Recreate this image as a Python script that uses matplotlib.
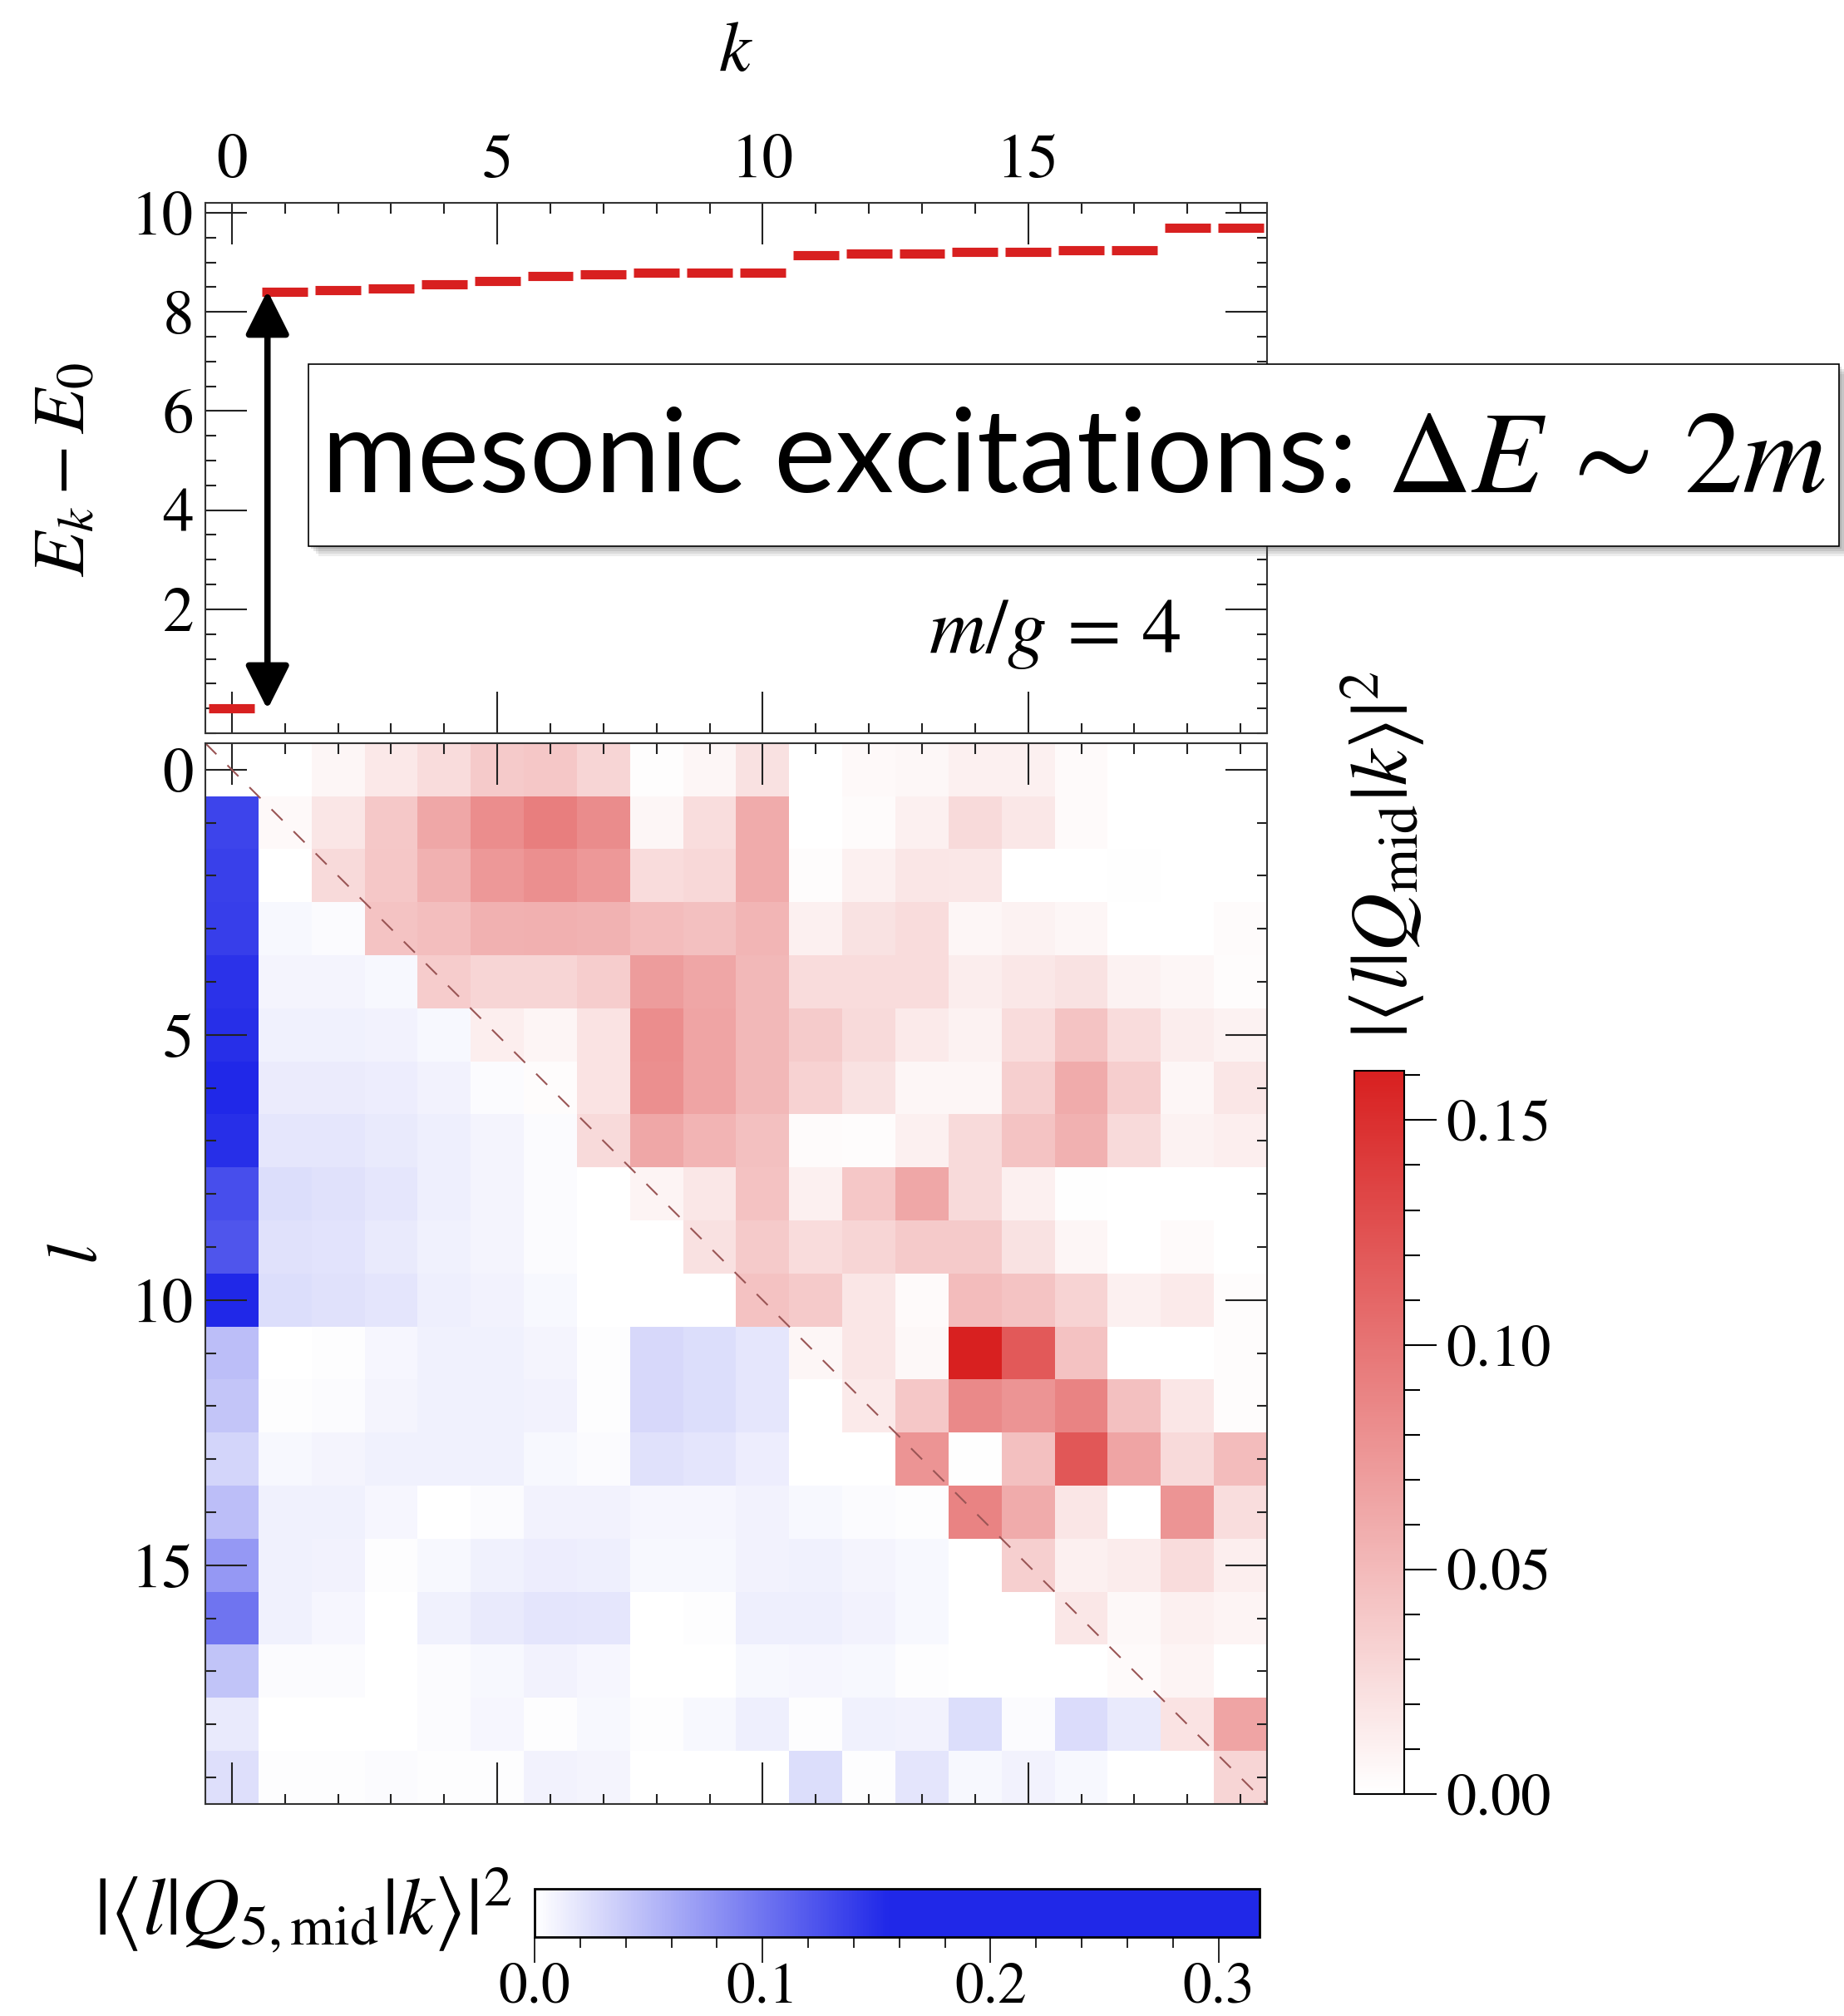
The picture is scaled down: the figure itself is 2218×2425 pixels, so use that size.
import numpy as np
import matplotlib.pyplot as plt
from matplotlib.colors import LinearSegmentedColormap
from matplotlib.patches import Rectangle
from matplotlib.ticker import MultipleLocator, FormatStrFormatter

plt.rcParams['font.family'] = 'STIXGeneral'
plt.rcParams['mathtext.fontset'] = 'stix'

# spectrum E_k - E_0 for the first 20 eigenstates
k_vals = np.arange(20)
energies = [0.0, 8.40, 8.44, 8.47, 8.56, 8.63, 8.72, 8.76, 8.79, 8.79,
            8.79, 9.15, 9.18, 9.18, 9.21, 9.21, 9.24, 9.24, 9.70, 9.70]

# |<l|Q_mid|k>|^2, row l holds k = l..19
q_mid_rows = [
    [0.0, 0.0, 0.0065, 0.0166, 0.025, 0.038, 0.040, 0.030, 0.0015, 0.0065, 0.022, 0.0, 0.004, 0.006, 0.011, 0.011, 0.0035, 0.0, 0.0, 0.0],
    [0.004, 0.018, 0.039, 0.063, 0.082, 0.093, 0.083, 0.0065, 0.024, 0.061, 0.0, 0.003, 0.011, 0.027, 0.017, 0.0036, 0.0, 0.0, 0.0],
    [0.027, 0.040, 0.056, 0.074, 0.080, 0.074, 0.025, 0.028, 0.061, 0.002, 0.011, 0.018, 0.017, 0.0, 0.0, 0.001, 0.0, 0.0],
    [0.043, 0.047, 0.056, 0.057, 0.055, 0.048, 0.0455, 0.053, 0.011, 0.021, 0.025, 0.0065, 0.009, 0.0065, 0.0, 0.0, 0.003],
    [0.037, 0.030, 0.030, 0.036, 0.0715, 0.064, 0.051, 0.025, 0.025, 0.025, 0.013, 0.017, 0.021, 0.009, 0.0065, 0.002],
    [0.012, 0.007, 0.0195, 0.082, 0.066, 0.051, 0.0375, 0.027, 0.015, 0.009, 0.025, 0.043, 0.025, 0.013, 0.009],
    [0.002, 0.0195, 0.080, 0.066, 0.051, 0.0325, 0.021, 0.0065, 0.0065, 0.034, 0.061, 0.035, 0.0065, 0.018],
    [0.027, 0.063, 0.054, 0.0455, 0.003, 0.002, 0.011, 0.027, 0.043, 0.056, 0.027, 0.009, 0.012],
    [0.008, 0.017, 0.044, 0.011, 0.040, 0.063, 0.027, 0.011, 0.001, 0.0, 0.0, 0.0],
    [0.022, 0.038, 0.025, 0.030, 0.038, 0.038, 0.021, 0.0065, 0.0, 0.0036, 0.0],
    [0.044, 0.038, 0.018, 0.0036, 0.048, 0.043, 0.032, 0.011, 0.015, 0.002],
    [0.0065, 0.018, 0.005, 0.161, 0.119, 0.044, 0.0, 0.0, 0.002],
    [0.015, 0.040, 0.0845, 0.077, 0.089, 0.0455, 0.018, 0.002],
    [0.077, 0.001, 0.0455, 0.121, 0.066, 0.027, 0.048],
    [0.089, 0.060, 0.018, 0.0, 0.077, 0.024],
    [0.034, 0.011, 0.0137, 0.025, 0.012],
    [0.017, 0.005, 0.011, 0.008],
    [0.0036, 0.008, 0.0],
    [0.0195, 0.066],
    [0.030],
]

# |<l|Q_5,mid|k>|^2, row l holds k = 0..l-1
q5_mid_rows = [
    [],
    [0.135],
    [0.137, 0.0],
    [0.139, 0.005, 0.003],
    [0.147, 0.0076, 0.0076, 0.005],
    [0.150, 0.0104, 0.0104, 0.009, 0.005],
    [0.210, 0.0139, 0.0139, 0.0125, 0.0097, 0.0035],
    [0.150, 0.0174, 0.0174, 0.016, 0.012, 0.0076, 0.0035],
    [0.127, 0.0243, 0.0215, 0.0174, 0.012, 0.0076, 0.0035, 0.0],
    [0.122, 0.0215, 0.020, 0.016, 0.0104, 0.0076, 0.0035, 0.0, 0.0],
    [0.318, 0.0243, 0.0215, 0.0188, 0.012, 0.009, 0.005, 0.0, 0.0, 0.0],
    [0.0466, 0.0, 0.002, 0.0063, 0.0104, 0.0104, 0.0076, 0.002, 0.0285, 0.0243, 0.0174],
    [0.041, 0.002, 0.0035, 0.0076, 0.0104, 0.0104, 0.009, 0.002, 0.0285, 0.0243, 0.0174, 0.0],
    [0.030, 0.005, 0.0076, 0.0104, 0.0104, 0.0104, 0.005, 0.0035, 0.0215, 0.0188, 0.0132, 0.0, 0.0],
    [0.0466, 0.0104, 0.0104, 0.0063, 0.0, 0.0035, 0.009, 0.009, 0.0063, 0.0063, 0.009, 0.005, 0.0035, 0.0014],
    [0.0744, 0.0104, 0.009, 0.002, 0.005, 0.0104, 0.0132, 0.012, 0.005, 0.005, 0.009, 0.0104, 0.0076, 0.005, 0.0],
    [0.0994, 0.0104, 0.0063, 0.0, 0.0104, 0.016, 0.0188, 0.0174, 0.0, 0.002, 0.012, 0.012, 0.009, 0.005, 0.0, 0.0],
    [0.0424, 0.0035, 0.0035, 0.0, 0.0035, 0.005, 0.009, 0.0063, 0.0, 0.0, 0.005, 0.0063, 0.005, 0.002, 0.0, 0.0, 0.0],
    [0.016, 0.0, 0.0, 0.0, 0.0035, 0.0063, 0.002, 0.005, 0.002, 0.005, 0.012, 0.002, 0.0104, 0.009, 0.0243, 0.0035, 0.0257, 0.016],
    [0.023, 0.002, 0.002, 0.0035, 0.002, 0.002, 0.009, 0.0076, 0.0, 0.0, 0.0, 0.0243, 0.002, 0.0188, 0.005, 0.009, 0.005, 0.0, 0.0],
]

major_ticks = [0, 5, 10, 15]
energy_ticks = [2, 4, 6, 8, 10]
red_ticks = [0.0, 0.05, 0.10, 0.15]
blue_ticks = [0.0, 0.1, 0.2, 0.3]

RED = '#D82020'
BLUE = '#2028E8'
red_vmax = 0.161
blue_vmax = 0.318

n = len(k_vals)
q_mid = np.zeros((n, n))
q5_mid = np.zeros((n, n))
for l in range(n):
    q_mid[l, l:] = q_mid_rows[l]
    q5_mid[l, :l] = q5_mid_rows[l]
lower = np.tril(np.ones((n, n), dtype=bool), -1)
red_data = np.ma.masked_where(lower, q_mid)
blue_data = np.ma.masked_where(~lower, q5_mid)

red_cmap = LinearSegmentedColormap.from_list('q_red', ['white', RED])
blue_cmap = LinearSegmentedColormap.from_list(
    'q_blue', [(0.0, 'white'), (0.155 / blue_vmax, BLUE), (1.0, BLUE)])

W, H = 2218, 2425
fig = plt.figure(figsize=(W / 100, H / 100), dpi=100)

def fx(px):
    return px / W

def fy(py):
    return 1 - py / H

tick_fs = 54
label_fs = 62

def style_ticks(ax):
    ax.tick_params(which='both', direction='in', top=True, bottom=True,
                   left=True, right=True, labelsize=tick_fs, width=1.5,
                   color='#222222')
    ax.tick_params(which='major', length=36)
    ax.tick_params(which='minor', length=9)
    for s in ax.spines.values():
        s.set_linewidth(1.5)
        s.set_color('#333333')

# energy panel
ax_e = fig.add_axes([fx(247), fy(882), fx(1524) - fx(247), fy(244) - fy(882)])
ax_e.hlines(energies, k_vals - 0.43, k_vals + 0.43, color=RED, lw=8)
ax_e.set_xlim(-0.5, n - 0.5)
ax_e.set_ylim(-0.5, 10.2)
ax_e.set_xticks(major_ticks)
ax_e.xaxis.set_minor_locator(MultipleLocator(1))
ax_e.set_yticks(energy_ticks)
ax_e.yaxis.set_minor_locator(MultipleLocator(0.5))
style_ticks(ax_e)
ax_e.tick_params(labelbottom=False, labeltop=True, pad=10)
ax_e.annotate('', xy=(0.67, energies[1] + 0.03), xytext=(0.67, energies[0] - 0.02),
              arrowprops=dict(arrowstyle='<|-|>,head_length=1.6,head_width=0.8',
                              mutation_scale=20, lw=5.5, color='black',
                              shrinkA=0, shrinkB=0))
ax_e.text(15.5, 1.5, r'$m/g\,=\,4$', fontsize=68, ha='center', va='center')

fig.text(fx(885), fy(65), r'$k$', fontsize=label_fs, ha='center', va='center')
fig.text(fx(80), fy(565), r'$E_k - E_0$', fontsize=64, rotation=90,
         ha='center', va='center')

# matrix elements: Q_5,mid below the diagonal, Q_mid on and above it
ax_m = fig.add_axes([fx(247), fy(2170), fx(1524) - fx(247), fy(894) - fy(2170)])
extent = (-0.5, n - 0.5, n - 0.5, -0.5)
im_b = ax_m.imshow(blue_data, cmap=blue_cmap, vmin=0, vmax=blue_vmax,
                   extent=extent, interpolation='nearest', aspect='auto')
im_r = ax_m.imshow(red_data, cmap=red_cmap, vmin=0, vmax=red_vmax,
                   extent=extent, interpolation='nearest', aspect='auto')
ax_m.plot([-0.5, n - 0.5], [-0.5, n - 0.5], color='#9a5555', lw=1.5,
          ls=(0, (9, 9)))
ax_m.set_xlim(-0.5, n - 0.5)
ax_m.set_ylim(n - 0.5, -0.5)
ax_m.set_xticks(major_ticks)
ax_m.set_yticks(major_ticks)
ax_m.xaxis.set_minor_locator(MultipleLocator(1))
ax_m.yaxis.set_minor_locator(MultipleLocator(1))
style_ticks(ax_m)
ax_m.tick_params(labelbottom=False, labeltop=False, pad=10)

fig.text(fx(96), fy(1508), r'$l$', fontsize=label_fs, rotation=90,
         ha='center', va='center')

# red colorbar
cax_r = fig.add_axes([fx(1629), fy(2158), fx(1689) - fx(1629), fy(1288) - fy(2158)])
cb_r = fig.colorbar(im_r, cax=cax_r, ticks=red_ticks)
cb_r.ax.yaxis.set_major_formatter(FormatStrFormatter('%.2f'))
cb_r.ax.yaxis.set_minor_locator(MultipleLocator(0.01))
cb_r.ax.tick_params(which='both', direction='out', labelsize=52, width=1.5, pad=8)
cb_r.ax.tick_params(which='major', length=28)
cb_r.ax.tick_params(which='minor', length=14)
cb_r.outline.set_linewidth(1.5)
fig.text(fx(1663), fy(1028), r'$|\langle l|Q_{\mathrm{mid}}|k\rangle|^2$',
         fontsize=70, rotation=90, ha='center', va='center')

# blue colorbar
cax_b = fig.add_axes([fx(643), fy(2330), fx(1515) - fx(643), fy(2272) - fy(2330)])
cb_b = fig.colorbar(im_b, cax=cax_b, orientation='horizontal', ticks=blue_ticks)
cb_b.ax.xaxis.set_major_formatter(FormatStrFormatter('%.1f'))
cb_b.ax.xaxis.set_minor_locator(MultipleLocator(0.02))
cb_b.ax.tick_params(which='both', direction='out', labelsize=50, width=1.2, pad=0)
cb_b.ax.tick_params(which='major', length=22)
cb_b.ax.tick_params(which='minor', length=9)
cb_b.outline.set_linewidth(2)
fig.text(fx(364), fy(2298), r'$|\langle l|Q_{5,\mathrm{mid}}|k\rangle|^2$',
         fontsize=70, ha='center', va='center')

# annotation box with soft drop shadow
bx0, by0, bx1, by1 = fx(371), fy(657), fx(2212), fy(438)
for i, a in enumerate([0.10, 0.12, 0.15, 0.18]):
    off = 12 - 3 * i
    fig.add_artist(Rectangle((bx0 + fx(off), by0 - off / H), bx1 - bx0, by1 - by0,
                             transform=fig.transFigure, facecolor='#555555',
                             edgecolor='none', alpha=a, zorder=9))
fig.add_artist(Rectangle((bx0, by0), bx1 - bx0, by1 - by0, transform=fig.transFigure,
                         facecolor='white', edgecolor='black', lw=1.2, zorder=10))
fig.text((bx0 + bx1) / 2, (by0 + by1) / 2 - 0.002,
         r'mesonic excitations: $\Delta E\, \sim\, 2m$',
         fontsize=101, family='Lato', ha='center', va='center', zorder=11)

fig.savefig('out.png', dpi=100)
